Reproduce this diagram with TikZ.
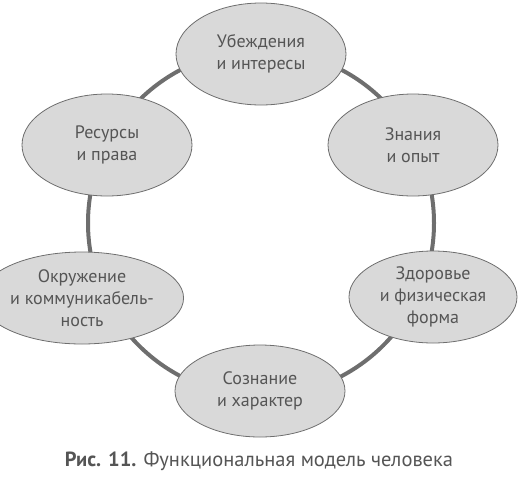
\documentclass[tikz,border=0pt]{standalone}
\usepackage{fontspec}
\setmainfont{PT Sans}
\usepackage{tikz}
\usetikzlibrary{shapes.geometric}
\usepackage{xcolor}
\definecolor{ringgray}{HTML}{6E6E6E}
\definecolor{fillgray}{HTML}{D9D9D9}
\definecolor{textgray}{HTML}{555555}

\begin{document}
\begin{tikzpicture}[
    x=1pt, y=-1pt,
    area/.style={ellipse, draw=ringgray, line width=0.8pt, fill=fillgray, inner sep=0pt,
    minimum width=170pt, minimum height=102pt, align=center, text=textgray,
    font=\fontsize{18}{22}\selectfont},
    area_low/.style={area, minimum height=92pt},
    ring/.style={draw=ringgray, line width=4pt}]

	\useasboundingbox (0,0) rectangle (519,488);

	% Ring
	\coordinate (center) at (261,223);
	\draw[ring] (center) circle (173pt);

	% Upper areas
	\node[area] (beliefs) at (261,54) {Убеждения\\и интересы};
	\node[area] (resources) at (107,145) {Ресурсы\\и права};
	\node[area] (knowledge) at (413,145) {Знания\\и опыт};

	% Lower areas
	\node[area_low, minimum width=164pt] (environment) at (82,298) {Окружение\\и коммуникабель-\\ность};
	\node[area_low, minimum width=168pt] (health) at (433,297) {Здоровье\\и физическая\\форма};
	\node[area_low] (mind) at (260,391) {Сознание\\и характер};

	% Caption
	\node[text=textgray, font=\fontsize{20.5}{24}\selectfont] (caption) at (259,461)
		{\textbf{Рис. 11.} Функциональная модель человека};

\end{tikzpicture}
\end{document}
